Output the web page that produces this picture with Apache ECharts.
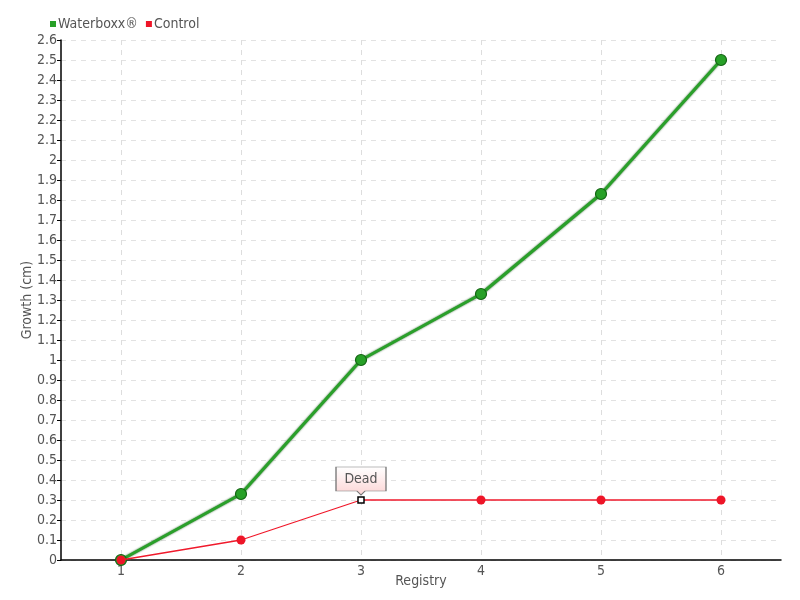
<!DOCTYPE html>
<html><head><meta charset="utf-8">
<script src="https://cdn.jsdelivr.net/npm/echarts@6/dist/echarts.min.js"></script>
<style>html,body{margin:0;padding:0;background:#fff}#c{width:800px;height:600px}</style>
</head><body><div id="c"></div>
<script>
const categories = ['1', '2', '3', '4', '5', '6'];
const waterboxx = [0, 0.33, 1.0, 1.33, 1.83, 2.5];
const control = [0, 0.1, 0.3, 0.3, 0.3, 0.3];
const deadIndex = 2;
const deadLabel = 'Dead';
const seriesNames = ['Waterboxx®', 'Control'];
const yAxisName = 'Growth (cm)';
const xAxisName = 'Registry';

const FONT = "'DejaVu Sans Condensed','DejaVu Sans',sans-serif";
const txt = {fontFamily: FONT, fontSize: 14, color: '#555'};
const chart = echarts.init(document.getElementById('c'));
const controlData = control.map((v, i) => i === deadIndex ? {
  value: v, symbol: 'rect', symbolSize: 6,
  itemStyle: {color: '#fff', borderColor: '#000', borderWidth: 1.5}
} : v);

chart.setOption({
  animation: false,
  textStyle: txt,
  legend: {
    left: 45, top: 12, icon: 'rect', itemWidth: 6, itemHeight: 6, itemGap: 8,
    itemStyle: {borderWidth: 0},
    textStyle: Object.assign({}, txt, {padding: [0, 0, 0, -3]}),
    data: seriesNames
  },
  grid: {left: 61, right: 19, top: 40, bottom: 40, containLabel: false, outerBoundsMode: 'none'},
  xAxis: {
    type: 'category', data: categories, boundaryGap: true,
    name: xAxisName, nameLocation: 'middle', nameGap: 14, nameMoveOverlap: false,
    nameTextStyle: txt,
    axisLine: {lineStyle: {color: '#000', width: 1.5}},
    axisTick: {show: false},
    axisLabel: Object.assign({}, txt, {margin: 4}),
    splitLine: {show: true, alignWithLabel: true, lineStyle: {color: '#ddd', type: [5, 5]}}
  },
  yAxis: {
    type: 'value', min: 0, max: 2.6, interval: 0.1,
    name: yAxisName, nameLocation: 'middle', nameGap: 27, nameMoveOverlap: false,
    nameTextStyle: txt,
    axisLine: {show: true, lineStyle: {color: '#000', width: 1.5}},
    axisTick: {show: true, length: 4, lineStyle: {color: '#000'}},
    axisLabel: Object.assign({}, txt, {margin: 4,
      formatter: v => String(+v.toFixed(1))}),
    splitLine: {lineStyle: {color: '#e2e2e2', type: [5, 5]}}
  },
  series: [
    {
      name: seriesNames[0], type: 'line', data: waterboxx,
      color: '#1fa21f', symbol: 'circle', symbolSize: 11,
      lineStyle: {width: 3, color: '#2aa02a', shadowColor: 'rgba(0,70,0,0.8)', shadowBlur: 2},
      itemStyle: {color: '#27a027', borderColor: '#146414', borderWidth: 1.2},
      z: 3
    },
    {
      name: seriesNames[1], type: 'line', data: controlData,
      color: '#ee1528', symbol: 'circle', symbolSize: 9,
      lineStyle: {width: 1.3, color: '#f01a2c'},
      itemStyle: {color: '#ee1528'},
      z: 4,
      markPoint: {
        symbol: 'path://M0,0 L50,0 L50,24 L29,24 L25,28 L21,24 L0,24 Z',
        symbolSize: [50, 28], symbolKeepAspect: false, symbolOffset: [0, -19],
        itemStyle: {
          color: new echarts.graphic.LinearGradient(0, 0, 0, 1, [
            {offset: 0, color: '#ffffff'}, {offset: 1, color: '#fcd4d4'}]),
          borderColor: '#777', borderWidth: 1
        },
        label: Object.assign({show: true, formatter: deadLabel, offset: [0, -2]}, txt),
        data: [{coord: [deadIndex, control[deadIndex]]}]
      }
    }
  ]
});
</script></body></html>
